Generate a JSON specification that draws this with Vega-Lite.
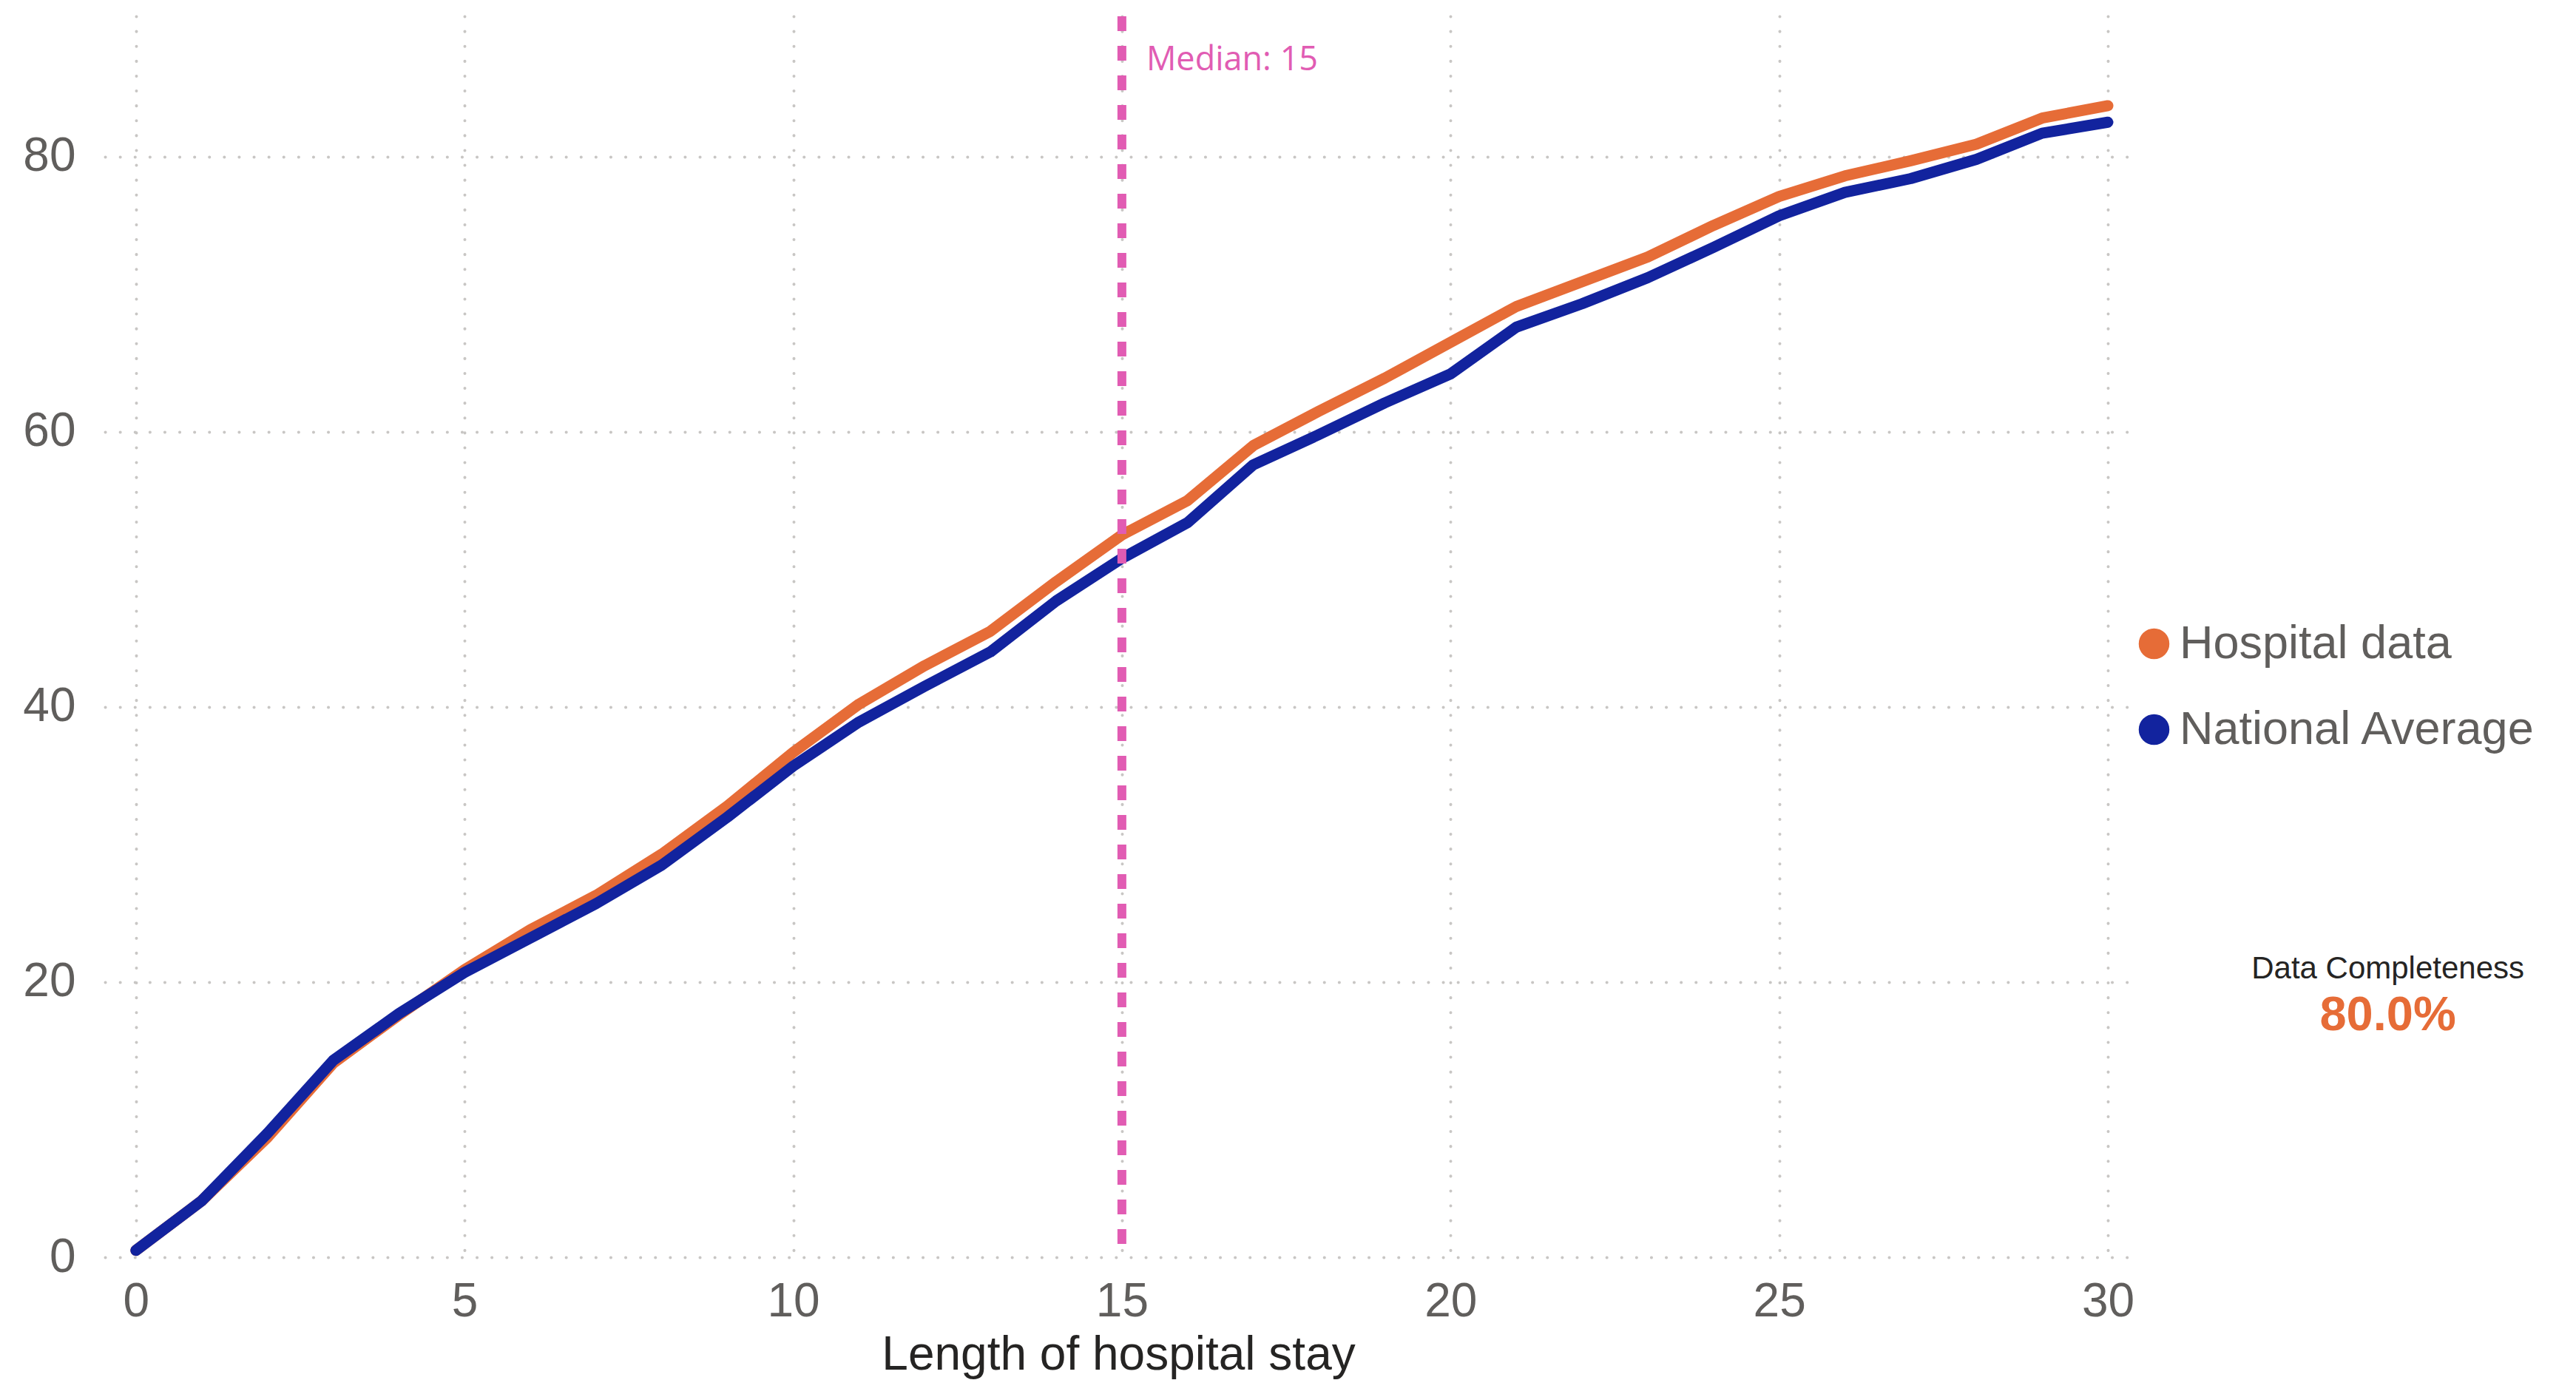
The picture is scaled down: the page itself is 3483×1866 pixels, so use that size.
{
  "$schema": "https://vega.github.io/schema/vega-lite/v6.json",
  "width": 2740,
  "height": 1678,
  "autosize": {"type": "none"},
  "padding": {"left": 142, "top": 22, "right": 601, "bottom": 166},
  "background": "white",
  "config": {"view": {"stroke": null}, "font": "Liberation Sans"},
  "datasets": {
    "stay": [
      {"day": 0, "series": "Hospital data", "value": 0.5},
      {"day": 1, "series": "Hospital data", "value": 4.1},
      {"day": 2, "series": "Hospital data", "value": 8.7},
      {"day": 3, "series": "Hospital data", "value": 14.1},
      {"day": 4, "series": "Hospital data", "value": 17.6},
      {"day": 5, "series": "Hospital data", "value": 20.9},
      {"day": 6, "series": "Hospital data", "value": 23.8},
      {"day": 7, "series": "Hospital data", "value": 26.3},
      {"day": 8, "series": "Hospital data", "value": 29.3},
      {"day": 9, "series": "Hospital data", "value": 32.8},
      {"day": 10, "series": "Hospital data", "value": 36.7},
      {"day": 11, "series": "Hospital data", "value": 40.2},
      {"day": 12, "series": "Hospital data", "value": 43.0},
      {"day": 13, "series": "Hospital data", "value": 45.5},
      {"day": 14, "series": "Hospital data", "value": 49.1},
      {"day": 15, "series": "Hospital data", "value": 52.5},
      {"day": 16, "series": "Hospital data", "value": 55.0},
      {"day": 17, "series": "Hospital data", "value": 59.0},
      {"day": 18, "series": "Hospital data", "value": 61.5},
      {"day": 19, "series": "Hospital data", "value": 63.9},
      {"day": 20, "series": "Hospital data", "value": 66.5},
      {"day": 21, "series": "Hospital data", "value": 69.1},
      {"day": 22, "series": "Hospital data", "value": 70.9},
      {"day": 23, "series": "Hospital data", "value": 72.7},
      {"day": 24, "series": "Hospital data", "value": 75.0},
      {"day": 25, "series": "Hospital data", "value": 77.1},
      {"day": 26, "series": "Hospital data", "value": 78.6},
      {"day": 27, "series": "Hospital data", "value": 79.7},
      {"day": 28, "series": "Hospital data", "value": 80.9},
      {"day": 29, "series": "Hospital data", "value": 82.8},
      {"day": 30, "series": "Hospital data", "value": 83.7},
      {"day": 0, "series": "National Average", "value": 0.5},
      {"day": 1, "series": "National Average", "value": 4.1},
      {"day": 2, "series": "National Average", "value": 9.0},
      {"day": 3, "series": "National Average", "value": 14.3},
      {"day": 4, "series": "National Average", "value": 17.7},
      {"day": 5, "series": "National Average", "value": 20.7},
      {"day": 6, "series": "National Average", "value": 23.2},
      {"day": 7, "series": "National Average", "value": 25.7},
      {"day": 8, "series": "National Average", "value": 28.5},
      {"day": 9, "series": "National Average", "value": 32.0},
      {"day": 10, "series": "National Average", "value": 35.7},
      {"day": 11, "series": "National Average", "value": 38.9},
      {"day": 12, "series": "National Average", "value": 41.5},
      {"day": 13, "series": "National Average", "value": 44.0},
      {"day": 14, "series": "National Average", "value": 47.7},
      {"day": 15, "series": "National Average", "value": 50.8},
      {"day": 16, "series": "National Average", "value": 53.4},
      {"day": 17, "series": "National Average", "value": 57.6},
      {"day": 18, "series": "National Average", "value": 59.8},
      {"day": 19, "series": "National Average", "value": 62.1},
      {"day": 20, "series": "National Average", "value": 64.2},
      {"day": 21, "series": "National Average", "value": 67.6},
      {"day": 22, "series": "National Average", "value": 69.3},
      {"day": 23, "series": "National Average", "value": 71.2},
      {"day": 24, "series": "National Average", "value": 73.4},
      {"day": 25, "series": "National Average", "value": 75.7},
      {"day": 26, "series": "National Average", "value": 77.4},
      {"day": 27, "series": "National Average", "value": 78.4},
      {"day": 28, "series": "National Average", "value": 79.8},
      {"day": 29, "series": "National Average", "value": 81.7},
      {"day": 30, "series": "National Average", "value": 82.5}
    ],
    "median": [{"median": 15, "label": "Median: 15"}],
    "completeness": [{"title": "Data Completeness", "value": "80.0%"}]
  },
  "layer": [
    {
      "data": {"name": "stay"},
      "mark": {"type": "line", "strokeWidth": 15, "strokeCap": "round", "strokeJoin": "round"},
      "encoding": {
        "x": {
          "field": "day",
          "type": "quantitative",
          "scale": {"domain": [-0.47, 30.36], "nice": false, "zero": false},
          "axis": {
            "values": [0, 5, 10, 15, 20, 25, 30],
            "format": "d",
            "title": "Length of hospital stay",
            "grid": true,
            "gridColor": "#C8C6C4",
            "gridDash": [0.1, 20],
            "gridCap": "round",
            "gridWidth": 4,
            "domain": false,
            "ticks": false,
            "labelFontSize": 64,
            "labelColor": "#605E5C",
            "labelPadding": 28,
            "titleFontSize": 64,
            "titleFontWeight": "normal",
            "titleColor": "#252423",
            "titlePadding": 8
          }
        },
        "y": {
          "field": "value",
          "type": "quantitative",
          "scale": {"domain": [0, 90.2], "nice": false},
          "axis": {
            "values": [0, 20, 40, 60, 80],
            "format": "d",
            "title": null,
            "grid": true,
            "gridColor": "#C8C6C4",
            "gridDash": [0.1, 20],
            "gridCap": "round",
            "gridWidth": 4,
            "domain": false,
            "ticks": false,
            "labelFontSize": 64,
            "labelColor": "#605E5C",
            "labelPadding": 40
          }
        },
        "color": {
          "field": "series",
          "type": "nominal",
          "scale": {"domain": ["Hospital data", "National Average"], "range": ["#E66C37", "#12239E"]},
          "legend": {
            "title": null,
            "orient": "none",
            "legendX": 2739,
            "legendY": 817,
            "symbolType": "circle",
            "symbolSize": 1600,
            "labelFontSize": 63,
            "labelColor": "#605E5C",
            "labelOffset": 3,
            "labelLimit": 0,
            "rowPadding": 52,
            "padding": 0,
            "encode": {
              "symbols": {"update": {"fill": {"scale": "color", "field": "value"}, "stroke": {"value": "transparent"}, "opacity": {"value": 1}}}
            }
          }
        }
      }
    },
    {
      "data": {"name": "median"},
      "mark": {"type": "rule", "color": "#E15CB3", "strokeWidth": 12, "strokeDash": [20, 20]},
      "encoding": {
        "x": {"field": "median", "type": "quantitative"},
        "y": {"datum": 90.2},
        "y2": {"datum": 0}
      }
    },
    {
      "data": {"name": "median"},
      "mark": {"type": "text", "color": "#E15CB3", "font": "Open Sans", "fontSize": 45, "align": "left", "baseline": "alphabetic", "dx": 33},
      "encoding": {
        "x": {"field": "median", "type": "quantitative"},
        "y": {"datum": 86.25},
        "text": {"field": "label"}
      }
    },
    {
      "data": {"name": "completeness"},
      "mark": {"type": "text", "color": "#252423", "fontSize": 42, "align": "center", "baseline": "alphabetic"},
      "encoding": {
        "x": {"datum": 34.26},
        "y": {"datum": 20.26},
        "text": {"field": "title"}
      }
    },
    {
      "data": {"name": "completeness"},
      "mark": {"type": "text", "color": "#E66C37", "fontSize": 65, "fontWeight": "bold", "align": "center", "baseline": "alphabetic"},
      "encoding": {
        "x": {"datum": 34.26},
        "y": {"datum": 16.5},
        "text": {"field": "value"}
      }
    }
  ]
}
